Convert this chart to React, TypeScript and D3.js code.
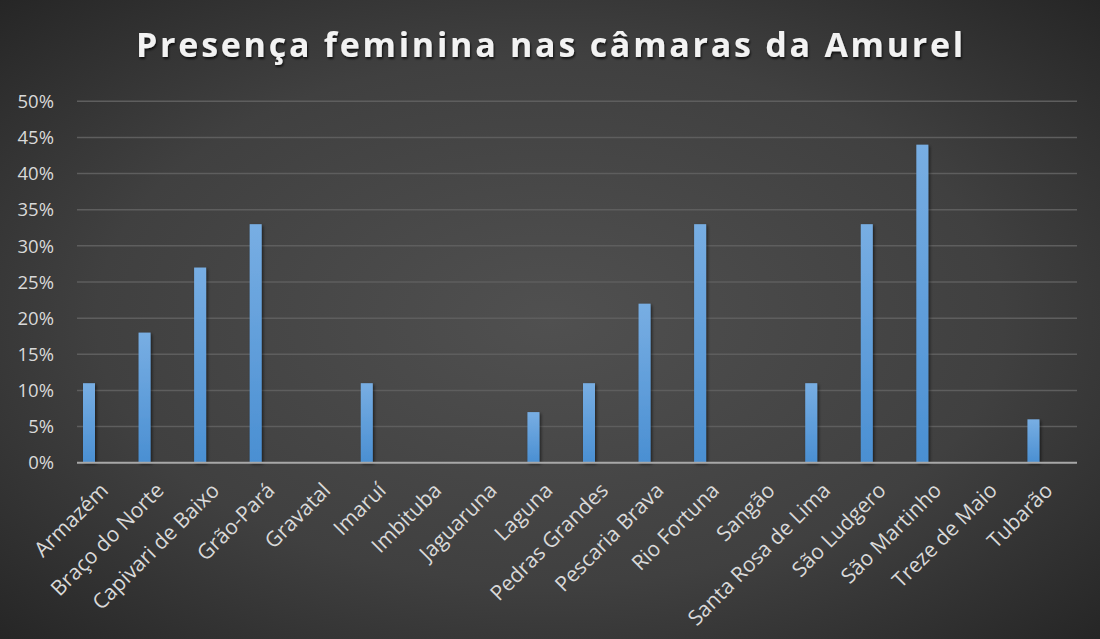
import React from "react";
import * as d3 from "d3";

const title = "Presença feminina nas câmaras da Amurel";
const categories = [
  "Armazém", "Braço do Norte", "Capivari de Baixo", "Grão-Pará", "Gravatal",
  "Imaruí", "Imbituba", "Jaguaruna", "Laguna", "Pedras Grandes",
  "Pescaria Brava", "Rio Fortuna", "Sangão", "Santa Rosa de Lima",
  "São Ludgero", "São Martinho", "Treze de Maio", "Tubarão",
];
const values = [11, 18, 27, 33, 0, 11, 0, 0, 7, 11, 22, 33, 0, 11, 33, 44, 0, 6];
const yTicks = [0, 5, 10, 15, 20, 25, 30, 35, 40, 45, 50];

const W = 1100;
const H = 639;
const FONT = "'Open Sans', 'Segoe UI', sans-serif";

export default function App() {
  const x = d3.scaleBand<string>().domain(categories).range([77, 1077]).padding(0);
  const y = d3.scaleLinear().domain([0, 50]).range([462.7, 101.3]);
  const barW = 12;
  const step = x.step();

  return (
    <svg
      width={W}
      height={H}
      viewBox={`0 0 ${W} ${H}`}
      style={{ position: "absolute", left: 0, top: 0, display: "block" }}
    >
      <defs>
        <radialGradient id="bg" cx="50%" cy="50%" r="75%" fx="50%" fy="50%">
          <stop offset="0%" stopColor="#505050" />
          <stop offset="55%" stopColor="#404040" />
          <stop offset="100%" stopColor="#222222" />
        </radialGradient>
        <linearGradient id="bar" x1="0" y1="0" x2="0" y2="1">
          <stop offset="0%" stopColor="#78aee3" />
          <stop offset="100%" stopColor="#4a8fd2" />
        </linearGradient>
        <filter id="shadow" x="-50%" y="-20%" width="200%" height="140%">
          <feDropShadow dx="1.5" dy="1.5" stdDeviation="1.5" floodColor="#000" floodOpacity="0.55" />
        </filter>
        <filter id="tshadow" x="-5%" y="-20%" width="110%" height="150%">
          <feDropShadow dx="1" dy="2" stdDeviation="1.2" floodColor="#000" floodOpacity="0.7" />
        </filter>
      </defs>
      <rect x={0} y={0} width={W} height={H} fill="url(#bg)" />

      <text
        x={551}
        y={57}
        textAnchor="middle"
        fill="#f2f2f2"
        fontFamily={FONT}
        fontWeight={700}
        fontSize={34}
        letterSpacing={2.75}
        filter="url(#tshadow)"
      >
        {title}
      </text>

      {yTicks.map((t) => (
        <g key={t}>
          {t !== 0 && (
            <line x1={77} x2={1077} y1={y(t)} y2={y(t)} stroke="#5e5e5e" strokeWidth={1.5} />
          )}
          <text
            x={54}
            y={y(t)}
            dy="0.36em"
            textAnchor="end"
            fill="#d9d9d9"
            fontFamily={FONT}
            fontSize={18.5}
          >
            {t}%
          </text>
        </g>
      ))}

      {categories.map((c, i) =>
        values[i] > 0 ? (
          <rect
            key={c}
            x={(x(c) as number) + 6}
            y={y(values[i])}
            width={barW}
            height={y(0) - y(values[i])}
            fill="url(#bar)"
            filter="url(#shadow)"
          />
        ) : null
      )}

      <line x1={77} x2={1077} y1={y(0)} y2={y(0)} stroke="#a8a8a8" strokeWidth={2} />

      {categories.map((c) => {
        const cx = (x(c) as number) + step / 2;
        return (
          <text
            key={c}
            transform={`translate(${cx - 2},${485}) rotate(-45)`}
            dy="0.45em"
            textAnchor="end"
            fill="#d9d9d9"
            fontFamily={FONT}
            fontSize={21}
          >
            {c}
          </text>
        );
      })}
    </svg>
  );
}
